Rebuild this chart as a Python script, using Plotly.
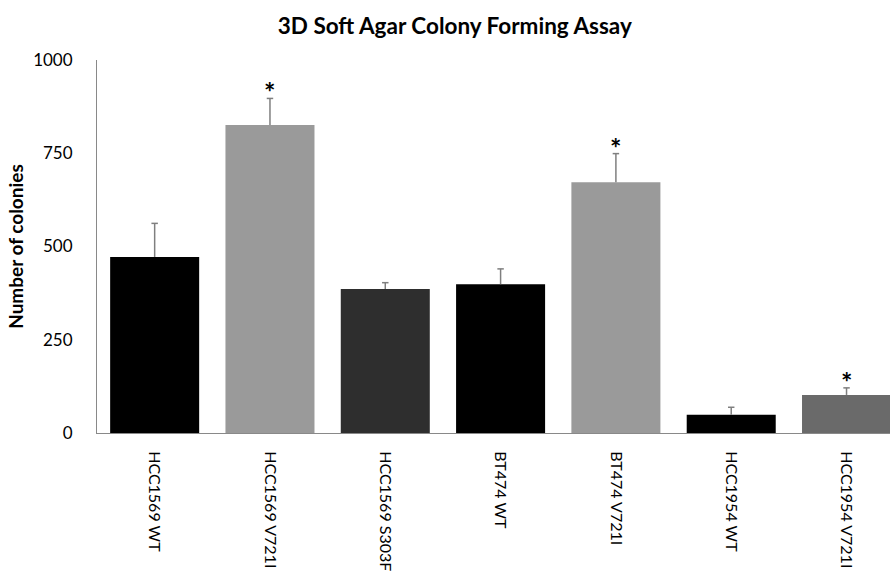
import plotly.graph_objects as go

# Soft agar colony counts per cell line (mean and upper SEM)
cell_lines = ["HCC1569 WT", "HCC1569 V721I", "HCC1569 S303F", "BT474 WT",
              "BT474 V721I", "HCC1954 WT", "HCC1954 V721I"]
colonies = [472, 826, 386, 399, 672, 49, 102]
errors = [90, 71, 17, 41, 77, 20, 19]
significant = [False, True, False, False, True, False, True]
bar_colors = ["#000000", "#9a9a9a", "#2e2e2e", "#000000", "#9a9a9a", "#000000", "#6a6a6a"]
y_ticks = [0, 250, 500, 750, 1000]

FONT = "Lato"
ERR_COLOR = "#7f7f7f"
CAP = 0.028  # half-width of error caps in category units

xs = list(range(len(cell_lines)))

fig = go.Figure()
fig.add_trace(go.Bar(
    x=xs, y=colonies,
    marker=dict(color=bar_colors, line=dict(width=0)),
    showlegend=False, hoverinfo="skip",
))

# Plus-only error bars: stem from bar top to mean + error, with a cap
ex, ey = [], []
for i, (v, e) in enumerate(zip(colonies, errors)):
    ex += [i, i, None, i - CAP, i + CAP, None]
    ey += [v, v + e, None, v + e, v + e, None]
fig.add_trace(go.Scatter(
    x=ex, y=ey, mode="lines",
    line=dict(color=ERR_COLOR, width=1.5),
    showlegend=False, hoverinfo="skip",
))

# Significance markers above the error bars
for i, (v, e, s) in enumerate(zip(colonies, errors, significant)):
    if s:
        fig.add_annotation(x=i, y=v + e, text="<b>*</b>", showarrow=False,
                           yanchor="bottom", yshift=-12,
                           font=dict(family=FONT, size=27, color="#000000"))

fig.update_layout(
    width=890, height=575,
    margin=dict(l=97, r=0, t=60, b=142),
    paper_bgcolor="white", plot_bgcolor="white",
    bargap=0.228,
    title=dict(text="<b>3D Soft Agar Colony Forming Assay</b>",
               xref="container", x=0.511, xanchor="center",
               yref="container", y=0.955, yanchor="middle",
               font=dict(family=FONT, size=22.5, color="#000000")),
    font=dict(family=FONT, color="#000000"),
)
fig.update_xaxes(
    tickmode="array", tickvals=xs, ticktext=cell_lines,
    tickangle=90, range=[-0.5, 6.377], automargin=False,
    showline=True, linecolor="#898989", linewidth=1,
    ticks="outside", ticklen=0, ticklabelstandoff=14,
    showgrid=False, zeroline=False,
    tickfont=dict(family=FONT, size=16, color="#000000"),
)
fig.update_yaxes(
    range=[0, 1000], tickmode="array", tickvals=y_ticks, automargin=False,
    showline=True, linecolor="#898989", linewidth=1,
    ticks="outside", ticklen=0, ticklabelstandoff=20,
    showgrid=False, zeroline=False,
    tickfont=dict(family=FONT, size=17, color="#000000"),
    title=dict(text="<b>Number of colonies</b>", standoff=4,
               font=dict(family=FONT, size=19, color="#000000")),
)

fig.write_html("out.html")
